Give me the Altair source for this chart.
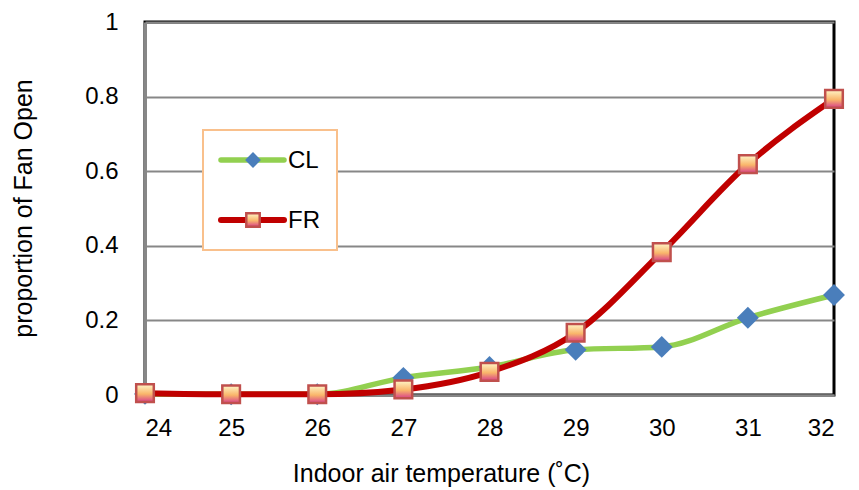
import altair as alt
import pandas as pd

temps = [24, 25, 26, 27, 28, 29, 30, 31, 32]
cl_values = [0.003, 0.002, 0.002, 0.046, 0.075, 0.121, 0.129, 0.207, 0.268]
fr_values = [0.005, 0.002, 0.002, 0.015, 0.062, 0.167, 0.383, 0.619, 0.794]
series_names = ["CL", "FR"]
x_ticks = [24, 25, 26, 27, 28, 29, 30, 31, 32]
y_ticks = [0, 0.2, 0.4, 0.6, 0.8, 1.0]

FONT = "Liberation Sans"
GREEN = "#92D050"
BLUE = "#4A7EBB"
RED = "#C00000"
SQ_STROKE = "#C0504D"
GRID = "#878787"

cl = pd.DataFrame({"t": temps, "v": cl_values})
fr = pd.DataFrame({"t": temps, "v": fr_values})

W, H = 689, 373

xs = alt.X("t:Q", scale=alt.Scale(domain=[24, 32], nice=False),
           axis=alt.Axis(values=x_ticks, format="d", title="Indoor air temperature (˚C)", grid=False,
                         ticks=False, domainColor=GRID, domainWidth=2,
                         labelFont=FONT, labelFontSize=24, labelColor="black",
                         labelPadding=21, titleFont=FONT, titleFontSize=25,
                         titleFontWeight="normal", titleColor="black",
                         titleX=296, titleY=78, titleBaseline="middle",
                         titleAnchor="middle"))
ys = alt.Y("v:Q", scale=alt.Scale(domain=[0, 1], nice=False),
           axis=alt.Axis(values=y_ticks, format="~g", title="proportion of Fan Open",
                         grid=True, gridColor=GRID, gridWidth=2, ticks=False,
                         domainColor=GRID, domainWidth=3,
                         labelFont=FONT, labelFontSize=24, labelColor="black",
                         labelPadding=27, titleFont=FONT, titleFontSize=25,
                         titleFontWeight="normal", titleColor="black",
                         titleX=-122, titleY=186, titleAngle=-90,
                         titleBaseline="middle", titleAnchor="middle"))

smooth = "monotone"
cl_line = alt.Chart(cl).mark_line(color=GREEN, strokeWidth=5.5, interpolate=smooth).encode(x=xs, y=ys)
cl_pts = alt.Chart(cl).mark_point(shape="diamond", filled=True, fill=BLUE, opacity=1,
                                  size=480, clip=False).encode(x="t:Q", y="v:Q")

grad = alt.LinearGradient(gradient="linear", x1=0, y1=0, x2=0, y2=1,
                          stops=[alt.GradientStop(color="#FFF6C8", offset=0),
                                 alt.GradientStop(color="#F9B56A", offset=0.55),
                                 alt.GradientStop(color="#D8408A", offset=1)])
fr_line = alt.Chart(fr).mark_line(color=RED, strokeWidth=6, interpolate=smooth).encode(x="t:Q", y="v:Q")
fr_pts = alt.Chart(fr).mark_point(shape="square", filled=True, fill=grad, stroke=SQ_STROKE,
                                  strokeWidth=2.5, opacity=1, size=310, clip=False).encode(x="t:Q", y="v:Q")

# Legend (decoration)
one = pd.DataFrame({"k": [0]})
box = alt.Chart(one).mark_rect(fill="white", stroke="#F9C08C", strokeWidth=2).encode(
    x=alt.value(58), x2=alt.value(192), y=alt.value(108), y2=alt.value(228))
leg_cl_line = alt.Chart(one).mark_rule(color=GREEN, strokeWidth=5.5, strokeCap="round").encode(
    x=alt.value(76), x2=alt.value(139), y=alt.value(138))
leg_cl_pt = alt.Chart(one).mark_point(shape="diamond", filled=True, fill=BLUE, opacity=1, size=250).encode(
    x=alt.value(108), y=alt.value(138))
leg_cl_txt = alt.Chart(one).mark_text(text=series_names[0], font=FONT, fontSize=24, align="left",
                                      baseline="middle", color="black").encode(x=alt.value(143), y=alt.value(139))
leg_fr_line = alt.Chart(one).mark_rule(color=RED, strokeWidth=6, strokeCap="round").encode(
    x=alt.value(76), x2=alt.value(139), y=alt.value(198))
leg_fr_pt = alt.Chart(one).mark_point(shape="square", filled=True, fill=grad, stroke=SQ_STROKE,
                                      strokeWidth=2.5, opacity=1, size=180).encode(x=alt.value(108), y=alt.value(198))
leg_fr_txt = alt.Chart(one).mark_text(text=series_names[1], font=FONT, fontSize=24, align="left",
                                      baseline="middle", color="black").encode(x=alt.value(143), y=alt.value(199))

chart = alt.layer(cl_line, cl_pts, fr_line, fr_pts, box, leg_cl_line, leg_cl_pt, leg_cl_txt,
                  leg_fr_line, leg_fr_pt, leg_fr_txt).properties(
    width=W, height=H, autosize=alt.AutoSizeParams(type="none"),
    padding={"left": 145, "top": 22, "right": 25, "bottom": 95},
    background="white",
).configure_view(stroke="black", strokeWidth=3)

chart.save("out.html", embed_options={"renderer": "svg", "actions": False})
